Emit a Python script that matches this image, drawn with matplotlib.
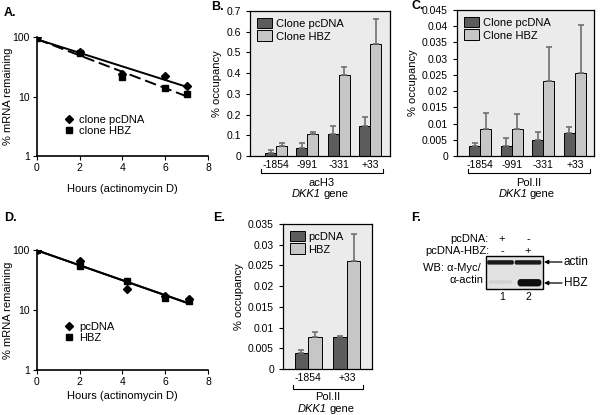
import numpy as np
import matplotlib
matplotlib.use('Agg')
import matplotlib.pyplot as plt
from matplotlib.patches import Patch, Rectangle, FancyBboxPatch
from matplotlib.ticker import FuncFormatter

plt.rcParams['font.family'] = ['Liberation Sans', 'DejaVu Sans']

# ---- data ----
hours_a = [0, 2, 4, 6, 7]
a_pcdna = [100, 55, 24, 22, 15]
a_hbz = [95, 53, 21, 14, 11]

hours_d = [0, 2, 4.2, 6, 7.1]
d_pcdna = [100, 65, 22, 17, 15]
d_hbz = [100, 55, 30, 16, 14]

sites4 = ['-1854', '-991', '-331', '+33']
b_pcdna = [0.015, 0.040, 0.105, 0.145]
b_pcdna_err = [0.013, 0.022, 0.040, 0.043]
b_hbz = [0.048, 0.106, 0.390, 0.540]
b_hbz_err = [0.014, 0.009, 0.040, 0.120]

c_pcdna = [0.0030, 0.0030, 0.0050, 0.0070]
c_pcdna_err = [0.0010, 0.0025, 0.0024, 0.0018]
c_hbz = [0.0083, 0.0083, 0.0230, 0.0256]
c_hbz_err = [0.0049, 0.0045, 0.0105, 0.0147]

sites2 = ['-1854', '+33']
e_pcdna = [0.0039, 0.0077]
e_pcdna_err = [0.0008, 0.0002]
e_hbz = [0.0077, 0.0260]
e_hbz_err = [0.0012, 0.0067]

W, H = 600, 415
DARK = '#5c5c5c'
LIGHT = '#c6c6c6'
BG = '#ebebeb'
FS = 7.5

fig = plt.figure(figsize=(6, 4.15), dpi=100)


def px_axes(x0, y0, x1, y1):
    return fig.add_axes([x0 / W, 1 - y1 / H, (x1 - x0) / W, (y1 - y0) / H])


def decay_panel(ax, hrs, s1, s2, lab1, lab2, dashed):
    ax.set_yscale('log')
    l1, = ax.plot(hrs, s1, 'D', color='black', ms=4, ls='none', label=lab1)
    l2, = ax.plot(hrs, s2, 's', color='black', ms=4, ls='none', label=lab2)
    xs = np.array([hrs[0], hrs[-1]])
    for s, ls in [(s1, '-'), (s2, (0, (6, 2.5)) if dashed else '-')]:
        k, b = np.polyfit(hrs, np.log10(s), 1)
        ax.plot(xs, 10 ** (k * xs + b), color='black', lw=1.4, ls=ls)
    ax.set_xlim(0, 8)
    ax.set_ylim(1, 100)
    ax.set_xticks([0, 2, 4, 6, 8])
    ax.set_yticks([1, 10, 100])
    ax.set_yticklabels(['1', '10', '100'])
    ax.minorticks_off()
    ax.tick_params(labelsize=FS, length=3, width=0.8, pad=2)
    for sp in ['top', 'right']:
        ax.spines[sp].set_visible(False)
    ax.spines['left'].set_linewidth(1.2)
    ax.spines['bottom'].set_linewidth(1.2)
    ax.set_facecolor('none')
    ax.set_ylabel('% mRNA remaining', fontsize=FS + 0.5)
    ax.yaxis.set_label_coords(-0.14, 0.5)
    ax.set_xlabel('Hours (actinomycin D)', fontsize=FS + 0.5, labelpad=8)
    return [l1, l2]


def bar_panel(ax, sites, v1, e1, v2, e2, ymax, step, xl, lab1, lab2):
    x = np.arange(len(sites))
    w = 0.35
    ax.set_facecolor(BG)
    ax.bar(x - w / 2, v1, w, color=DARK, edgecolor='black', lw=0.7,
           yerr=[np.zeros(len(e1)), e1], ecolor='#707070',
           error_kw=dict(lw=1.2, capsize=2, capthick=1.2), label=lab1, zorder=2)
    ax.bar(x + w / 2, v2, w, color=LIGHT, edgecolor='black', lw=0.7,
           yerr=[np.zeros(len(e2)), e2], ecolor='#707070',
           error_kw=dict(lw=1.2, capsize=2, capthick=1.2), label=lab2, zorder=2)
    ax.set_xlim(*xl)
    ax.set_ylim(0, ymax)
    ax.set_yticks(np.arange(0, ymax + step / 2, step))
    ax.yaxis.set_major_formatter(FuncFormatter(lambda v, p: '%g' % round(v, 4)))
    ax.set_xticks(x)
    ax.set_xticklabels(sites)
    ax.tick_params(axis='x', length=0, pad=3, labelsize=FS)
    ax.tick_params(axis='y', length=3, width=0.8, labelsize=FS)
    for sp in ax.spines.values():
        sp.set_linewidth(0.9)
    ax.set_ylabel('% occupancy', fontsize=FS + 0.5, labelpad=3)
    ax.legend(handles=[Patch(facecolor=DARK, edgecolor='black', lw=0.7, label=lab1),
                       Patch(facecolor=LIGHT, edgecolor='black', lw=0.7, label=lab2)],
              loc='upper left', frameon=False, fontsize=FS + 0.5,
              handlelength=1.4, handleheight=1.1, handletextpad=0.3,
              labelspacing=0.15, borderaxespad=0.3, borderpad=0.3)


# A
axA = px_axes(37, 37, 208, 156)
hA = decay_panel(axA, hours_a, a_pcdna, a_hbz, 'clone pcDNA', 'clone HBZ', True)
axA.legend(handles=hA, loc='upper left', bbox_to_anchor=(0.13, 0.39), frameon=False,
           fontsize=FS + 0.5, handlelength=0.8, handletextpad=0.5, labelspacing=0.1,
           borderpad=0)

# D
axD = px_axes(37, 250, 208, 370)
hD = decay_panel(axD, hours_d, d_pcdna, d_hbz, 'pcDNA', 'HBZ', False)
axD.xaxis.labelpad = 3
axD.legend(handles=hD, loc='upper left', bbox_to_anchor=(0.13, 0.45), frameon=False,
           fontsize=FS + 0.5, handlelength=0.8, handletextpad=0.5, labelspacing=0.1,
           borderpad=0)

# B
axB = px_axes(250, 11, 390, 156)
bar_panel(axB, sites4, b_pcdna, b_pcdna_err, b_hbz, b_hbz_err, 0.7, 0.1,
          (-0.83, 3.63), 'Clone pcDNA', 'Clone HBZ')

# C
axC = px_axes(457, 10, 594, 156)
bar_panel(axC, sites4, c_pcdna, c_pcdna_err, c_hbz, c_hbz_err, 0.045, 0.005,
          (-0.73, 3.6), 'Clone pcDNA', 'Clone HBZ')

# E
axE = px_axes(283, 224, 372, 369)
bar_panel(axE, sites2, e_pcdna, e_pcdna_err, e_hbz, e_hbz_err, 0.035, 0.005,
          (-0.65, 1.65), 'pcDNA', 'HBZ')

# overlay in pixel coordinates for brackets, labels and blot
ov = fig.add_axes([0, 0, 1, 1], facecolor='none')
ov.set_xlim(0, W)
ov.set_ylim(H, 0)
ov.axis('off')


def bracket(x0, x1, y, t1, y1, y2):
    ov.plot([x0, x0, x1, x1], [y - 4, y, y, y - 4], color='black', lw=0.8)
    xc = (x0 + x1) / 2
    ov.text(xc, y1, t1, ha='center', va='center', fontsize=FS + 0.5)
    ov.text(xc - 1, y2, 'DKK1', ha='right', va='center', fontsize=FS + 0.5,
            fontstyle='italic')
    ov.text(xc + 1, y2, 'gene', ha='left', va='center', fontsize=FS + 0.5)


bracket(261, 383, 173, 'acH3', 183, 194)
bracket(468, 590, 173, 'Pol.II', 183, 194)
bracket(293, 363, 389, 'Pol.II', 397, 409)

for t, x, y in [('A.', 4, 13), ('B.', 211, 7), ('C.', 411, 6),
                ('D.', 4, 218), ('E.', 213, 218), ('F.', 411, 218)]:
    ov.text(x, y, t, fontsize=9, fontweight='bold', va='center', ha='left')

# F: western blot
ov.add_patch(Rectangle((485.5, 255.5), 57, 33.5, facecolor='#e2e2e2',
                       edgecolor='black', lw=1.0))
ov.add_patch(FancyBboxPatch((487.5, 260.5), 26, 3.8, boxstyle='round,pad=0.3,rounding_size=1.5',
                            facecolor='#1a1a1a', edgecolor='none'))
ov.add_patch(FancyBboxPatch((515, 260.5), 26, 3.8, boxstyle='round,pad=0.3,rounding_size=1.5',
                            facecolor='#1a1a1a', edgecolor='none'))
ov.add_patch(FancyBboxPatch((489, 280.5), 23, 3, boxstyle='round,pad=0.3,rounding_size=1.5',
                            facecolor='#d2d2d2', edgecolor='none'))
ov.add_patch(FancyBboxPatch((518, 279.5), 23, 6.5, boxstyle='round,pad=0.4,rounding_size=3',
                            facecolor='#0d0d0d', edgecolor='none'))

ov.text(489, 239, 'pcDNA:', ha='right', va='center', fontsize=FS + 0.5)
ov.text(489, 251, 'pcDNA-HBZ:', ha='right', va='center', fontsize=FS + 0.5)
for x, s1, s2 in [(502, '+', '-'), (528, '-', '+')]:
    ov.text(x, 239, s1, ha='center', va='center', fontsize=FS + 0.5)
    ov.text(x, 251, s2, ha='center', va='center', fontsize=FS + 0.5)
ov.text(481, 268, 'WB: α-Myc/', ha='right', va='center', fontsize=FS + 0.5)
ov.text(483, 280, 'α-actin', ha='right', va='center', fontsize=FS + 0.5)
ov.text(502, 297, '1', ha='center', va='center', fontsize=FS)
ov.text(528, 297, '2', ha='center', va='center', fontsize=FS)
for y, t in [(262, 'actin'), (283, 'HBZ')]:
    ov.annotate('', xy=(544, y), xytext=(562, y),
                arrowprops=dict(arrowstyle='-|>', color='black', lw=0.9,
                                mutation_scale=6, shrinkA=0, shrinkB=0))
    ov.text(564, y, t, ha='left', va='center', fontsize=FS + 1)

fig.savefig('out.png', dpi=100)
